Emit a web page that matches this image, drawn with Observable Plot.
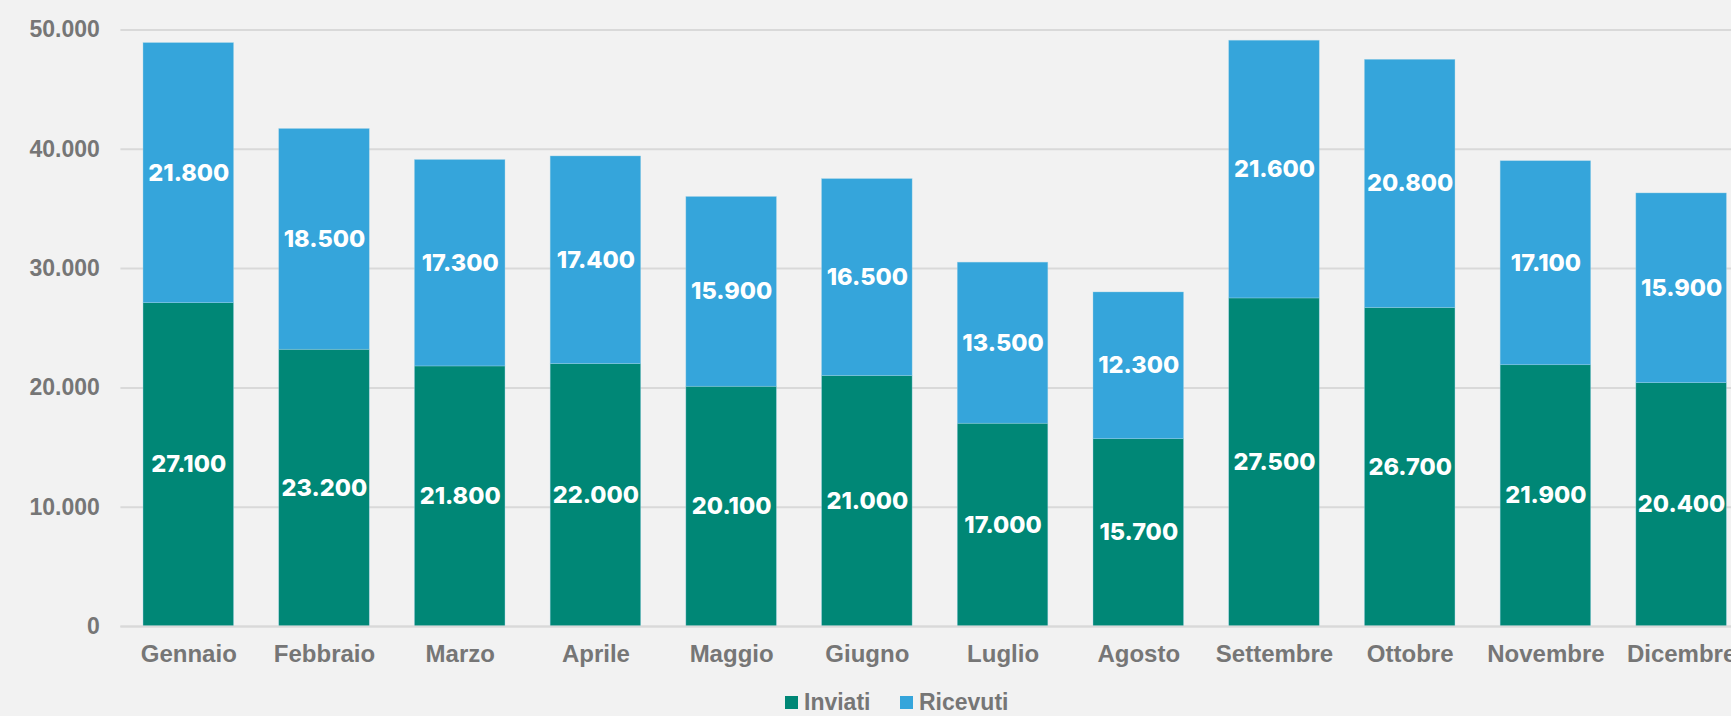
<!DOCTYPE html>
<html>
<head>
<meta charset="utf-8">
<script src="https://cdn.jsdelivr.net/npm/d3@7"></script>
<script src="https://cdn.jsdelivr.net/npm/@observablehq/plot@0.6"></script>
<style>
  html, body { margin: 0; padding: 0; background: #f2f2f2; overflow: hidden; width: 1731px; height: 716px; }
  #chart { width: 1731px; height: 688px; overflow: hidden; }
  #chart svg { display: block; max-width: none !important; }
  #legend { height: 28px; position: relative; font-family: "Liberation Sans", Arial, sans-serif; font-weight: 700; font-size: 23px; color: #767676; }
  .item { position: absolute; top: 0; display: flex; align-items: center; height: 28px; }
  .sw { width: 13px; height: 13px; margin-right: 6px; }
</style>
</head>
<body>
<div id="chart"></div>
<div id="legend"></div>
<script>
const months = ["Gennaio","Febbraio","Marzo","Aprile","Maggio","Giugno","Luglio","Agosto","Settembre","Ottobre","Novembre","Dicembre"];
const seriesNames = ["Inviati","Ricevuti"];
const colors = ["#008776","#35a5db"];
const inviati  = [27100,23200,21800,22000,20100,21000,17000,15700,27500,26700,21900,20400];
const ricevuti = [21800,18500,17300,17400,15900,16500,13500,12300,21600,20800,17100,15900];
const yTicks = [0,10000,20000,30000,40000,50000];

const data = [];
months.forEach((m, i) => {
  data.push({month: m, series: seriesNames[0], value: inviati[i]});
  data.push({month: m, series: seriesNames[1], value: ricevuti[i]});
});

const locale = d3.formatLocale({decimal: ",", thousands: ".", grouping: [3], currency: ["€", ""]});
const fmt = locale.format(",d");

const plot = Plot.plot({
  width: 1749,
  height: 688,
  marginLeft: 120.4,
  marginRight: 0,
  marginTop: 29.5,
  marginBottom: 62,
  style: {background: "transparent", maxWidth: "none", fontFamily: "'Liberation Sans', Arial, sans-serif", fontSize: "23px", fontWeight: "700", color: "#767676"},
  x: {domain: months, paddingInner: 0.333, paddingOuter: 0.1667, round: false, label: null},
  y: {domain: [0, 50000], label: null},
  color: {domain: seriesNames, range: colors},
  marks: [
    Plot.gridY(yTicks, {stroke: "#d9d9d9", strokeOpacity: 1, strokeWidth: 2}),
    Plot.axisY(yTicks, {tickFormat: fmt, tickSize: 0, tickPadding: 21, fontSize: 23, label: null}),
    Plot.axisX(months, {tickSize: 0, tickPadding: 18.5, fontSize: 24, label: null}),
    Plot.barY(data, {x: "month", y: "value", fill: "series", order: seriesNames, stroke: "#9fd3ea", strokeWidth: 0.6, strokeOpacity: 0.6}),
    Plot.ruleY([0], {stroke: "#d9d9d9", strokeWidth: 2}),
    Plot.text(data, Plot.stackY({x: "month", y: "value", z: "series", order: seriesNames, text: d => fmt(d.value), fill: "white", fontFamily: "Inter, 'Open Sans', sans-serif", fontWeight: 800, fontSize: 23.5}))
  ]
});
document.getElementById("chart").appendChild(plot);

const legend = document.getElementById("legend");
const lefts = [785, 900];
seriesNames.forEach((s, i) => {
  const it = document.createElement("div");
  it.className = "item";
  it.style.left = lefts[i] + "px";
  const sw = document.createElement("div");
  sw.className = "sw";
  sw.style.background = colors[i];
  it.appendChild(sw);
  const t = document.createElement("span");
  t.textContent = s;
  it.appendChild(t);
  legend.appendChild(it);
});
</script>
</body>
</html>
